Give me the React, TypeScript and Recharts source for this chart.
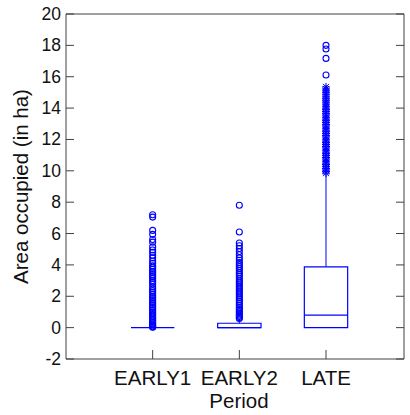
import React from 'react';
import { ComposedChart, XAxis, YAxis, Scatter, ReferenceArea, ReferenceLine, Label } from 'recharts';

const categories = ['EARLY1', 'EARLY2', 'LATE'];
const positions = [1, 2, 3];
const q1 = [0, 0, 0];
const medians = [0, 0, 0.8];
const q3 = [0, 0.28, 3.88];
const whiskerHigh = [0, 0.55, 9.72];

const early1Outliers = [7.2, 7.05, 6.2, 5.95, 5.62, 5.45, 5.15, 4.95, 4.8, 4.62, 4.45, 4.25, 4.1, 3.95, 3.85, 3.72, 3.6, 3.5, 3.38, 3.25, 3.14, 3.0, 2.9, 2.78, 2.6, 2.48, 2.36, 2.25, 2.12, 2.0, 1.9, 1.78, 1.66, 1.55, 1.45, 1.33, 1.22, 1.1, 1.0, 0.9, 0.8, 0.7, 0.6, 0.5, 0.42, 0.33, 0.25, 0.18, 0.1, 0.05, 0.02];
const early2Outliers = [7.8, 6.1, 5.4, 5.22, 5.05, 4.85, 4.65, 4.45, 4.3, 4.15, 4.02, 3.9, 3.78, 3.65, 3.52, 3.4, 3.28, 3.15, 3.02, 2.9, 2.78, 2.65, 2.52, 2.4, 2.28, 2.15, 2.02, 1.9, 1.78, 1.66, 1.54, 1.42, 1.3, 1.2, 1.1, 1.0, 0.9, 0.8, 0.72, 0.64, 0.58];
const lateOutliers = [15.35, 15.22, 15.1, 14.98, 14.85, 14.72, 14.6, 14.5, 14.38, 14.25, 14.12, 14.0, 13.9, 13.78, 13.65, 13.55, 13.42, 13.3, 13.2, 13.08, 12.95, 12.85, 12.72, 12.6, 12.5, 12.38, 12.25, 12.15, 12.02, 11.9, 11.8, 11.68, 11.55, 11.45, 11.32, 11.2, 11.1, 10.98, 10.85, 10.75, 10.62, 10.5, 10.4, 10.28, 10.15, 10.05, 9.95, 9.85];
const lateExtremes = [18.0, 17.77, 17.17, 16.11];

const yTicks = [-2, 0, 2, 4, 6, 8, 10, 12, 14, 16, 18, 20];

const BLUE = '#0000ff';
const AXIS = '#404040';
const FONT = '"Liberation Sans", Arial, sans-serif';

const toPoints = (pos: number, vals: number[]) => vals.map((v) => ({ x: pos, y: v }));

const CircleMark = (props: any) => {
  const { cx, cy } = props;
  if (cx == null || cy == null) return null;
  return <circle cx={cx} cy={cy} r={3} fill="none" stroke={BLUE} strokeWidth={1.1} />;
};

const StarMark = (props: any) => {
  const { cx, cy } = props;
  if (cx == null || cy == null) return null;
  return (
    <g stroke={BLUE} strokeWidth={1}>
      <line x1={cx - 4} x2={cx + 4} y1={cy} y2={cy} />
      <line x1={cx} x2={cx} y1={cy - 4} y2={cy + 4} />
      <line x1={cx - 3} x2={cx + 3} y1={cy - 3} y2={cy + 3} />
      <line x1={cx - 3} x2={cx + 3} y1={cy + 3} y2={cy - 3} />
    </g>
  );
};

const LeftTick = (props: any) => {
  const { x, y, payload } = props;
  return (
    <g>
      <line x1={x} x2={x + 8} y1={y} y2={y} stroke={AXIS} />
      <text x={x - 5} y={y} textAnchor="end" dominantBaseline="central" fontSize={17.5} fontFamily={FONT} fill="#111">
        {payload.value}
      </text>
    </g>
  );
};

const RightTick = (props: any) => {
  const { x, y } = props;
  return <line x1={x - 8} x2={x} y1={y} y2={y} stroke={AXIS} />;
};

const BottomTick = (props: any) => {
  const { x, y, payload } = props;
  const idx = positions.indexOf(payload.value);
  return (
    <g>
      <line x1={x} x2={x} y1={y} y2={y - 9} stroke={AXIS} />
      <text x={x} y={y + 26} textAnchor="middle" fontSize={20.5} fontFamily={FONT} fill="#111">
        {idx >= 0 ? categories[idx] : ''}
      </text>
    </g>
  );
};

const TopTick = (props: any) => {
  const { x, y } = props;
  return <line x1={x} x2={x} y1={y} y2={y + 9} stroke={AXIS} />;
};

export default function App() {
  return (
    <div style={{ position: 'absolute', left: 0, top: 0 }}>
      <ComposedChart width={410} height={415} margin={{ top: 13, right: 5, left: 0, bottom: 0 }}>
        <XAxis
          type="number"
          dataKey="x"
          domain={[0, 3.9]}
          ticks={positions}
          interval={0}
          height={56}
          tickSize={0}
          tickMargin={0}
          tickLine={false}
          axisLine={{ stroke: AXIS }}
          tick={BottomTick}
          allowDataOverflow
        >
          <Label value="Period" position="insideBottom" offset={7} dx={4} fontSize={20.5} fontFamily={FONT} fill="#111" />
        </XAxis>
        <XAxis
          xAxisId="top"
          orientation="top"
          type="number"
          domain={[0, 3.9]}
          ticks={positions}
          interval={0}
          height={1}
          tickSize={0}
          tickMargin={0}
          tickLine={false}
          axisLine={{ stroke: AXIS }}
          tick={TopTick}
          allowDataOverflow
        />
        <YAxis
          type="number"
          dataKey="y"
          domain={[-2, 20]}
          ticks={yTicks}
          interval={0}
          width={66}
          tickSize={0}
          tickMargin={0}
          tickLine={false}
          axisLine={{ stroke: AXIS }}
          tick={LeftTick}
          allowDataOverflow
        >
          <Label
            value="Area occupied (in ha)"
            angle={-90}
            position="insideLeft"
            offset={21}
            style={{ textAnchor: 'middle' }}
            fontSize={20.5}
            fontFamily={FONT}
            fill="#111"
          />
        </YAxis>
        <YAxis
          yAxisId="right"
          orientation="right"
          type="number"
          domain={[-2, 20]}
          ticks={yTicks}
          interval={0}
          width={1}
          tickSize={0}
          tickMargin={0}
          tickLine={false}
          axisLine={{ stroke: AXIS }}
          tick={RightTick}
          allowDataOverflow
        />

        {positions.map((p, i) => (
          <ReferenceArea
            key={'box' + i}
            x1={p - 0.25}
            x2={p + 0.25}
            y1={q1[i]}
            y2={q3[i]}
            fill="none"
            fillOpacity={0}
            stroke={BLUE}
            strokeWidth={1.2}
            strokeOpacity={1}
          />
        ))}
        {positions.map((p, i) => (
          <ReferenceLine
            key={'med' + i}
            segment={[
              { x: p - 0.25, y: medians[i] },
              { x: p + 0.25, y: medians[i] },
            ]}
            stroke={BLUE}
            strokeWidth={1.2}
          />
        ))}
        {positions.map((p, i) =>
          whiskerHigh[i] > q3[i] ? (
            <ReferenceLine
              key={'wh' + i}
              segment={[
                { x: p, y: q3[i] },
                { x: p, y: whiskerHigh[i] },
              ]}
              stroke={BLUE}
              strokeWidth={1}
            />
          ) : null
        )}

        <Scatter data={toPoints(1, early1Outliers)} shape={CircleMark} isAnimationActive={false} />
        <Scatter data={toPoints(2, early2Outliers)} shape={CircleMark} isAnimationActive={false} />
        <Scatter data={toPoints(3, lateOutliers)} shape={StarMark} isAnimationActive={false} />
        <Scatter data={toPoints(3, lateExtremes)} shape={CircleMark} isAnimationActive={false} />
      </ComposedChart>
    </div>
  );
}
